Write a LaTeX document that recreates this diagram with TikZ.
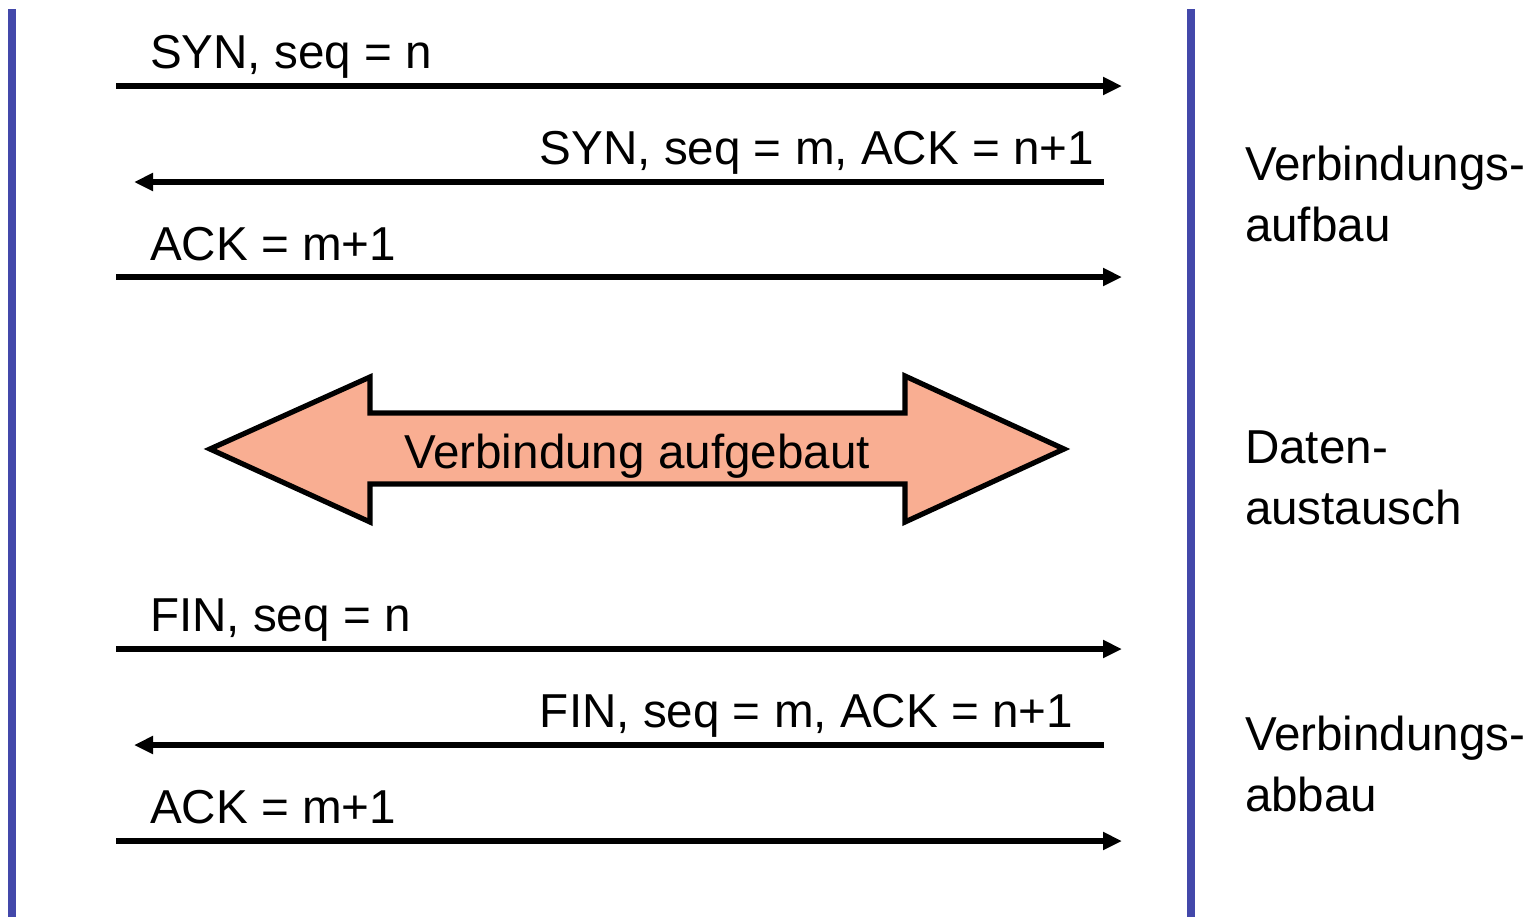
\documentclass[tikz,border=0pt]{standalone}
\usepackage{fontspec}
\setmainfont{Liberation Sans}
\usetikzlibrary{arrows.meta}
\definecolor{lifeline}{RGB}{67,72,170}
\definecolor{salmon}{RGB}{249,174,146}
\begin{document}
\begin{tikzpicture}[x=0.5pt,y=-0.5pt,
  every node/.style={inner sep=0pt,outer sep=0pt,font=\fontsize{23.8}{30.5}\selectfont},
  lifeline/.style={draw=lifeline,line width=4pt},
  msg/.style={draw=black,line width=2.8pt,-{Triangle[length=9.5pt,width=8.5pt]}},
  bigarrow/.style={draw=black,fill=salmon,line width=2.6pt,line join=miter},
  phase/.style={anchor=base west,align=left}]
\useasboundingbox (0,0) rectangle (1539,917);
% lifelines
\coordinate (lt) at (12,9);
\coordinate (lb) at (12,917);
\coordinate (rt) at (1191,9);
\coordinate (rb) at (1191,917);
\draw[lifeline] (lt) -- (lb);
\draw[lifeline] (rt) -- (rb);
% message endpoints
\coordinate (a1s) at (116,86);  \coordinate (a1e) at (1122,86);
\coordinate (a2s) at (1104,182); \coordinate (a2e) at (134,182);
\coordinate (a3s) at (116,277); \coordinate (a3e) at (1122,277);
\coordinate (a4s) at (116,649); \coordinate (a4e) at (1122,649);
\coordinate (a5s) at (1104,745); \coordinate (a5e) at (134,745);
\coordinate (a6s) at (116,841); \coordinate (a6e) at (1122,841);
\draw[msg] (a1s) -- (a1e);
\draw[msg] (a2s) -- (a2e);
\draw[msg] (a3s) -- (a3e);
\draw[msg] (a4s) -- (a4e);
\draw[msg] (a5s) -- (a5e);
\draw[msg] (a6s) -- (a6e);
% labels
\node[anchor=base west] (l1) at (150,68) {SYN, seq = n};
\node[anchor=base east] (l2) at (1094,164) {SYN, seq = m, ACK = n+1};
\node[anchor=base west] (l3) at (150,260) {ACK = m+1};
\node[anchor=base west] (l4) at (150,631) {FIN, seq = n};
\node[anchor=base east] (l5) at (1073,727) {FIN, seq = m, ACK = n+1};
\node[anchor=base west] (l6) at (150,823) {ACK = m+1};
% big double arrow
\draw[bigarrow] (210,449) -- (370,377) -- (370,413) -- (905,413) -- (905,376)
  -- (1064,449) -- (905,522) -- (905,484) -- (370,484) -- (370,522) -- cycle;
\node[anchor=base] (va) at (637,468) {Verbindung aufgebaut};
% phases
\node[phase] (p1) at (1245,241) {Verbindungs-\\aufbau};
\node[phase] (p2) at (1245,524) {Daten-\\austausch};
\node[phase] (p3) at (1245,811) {Verbindungs-\\abbau};
\end{tikzpicture}
\end{document}
